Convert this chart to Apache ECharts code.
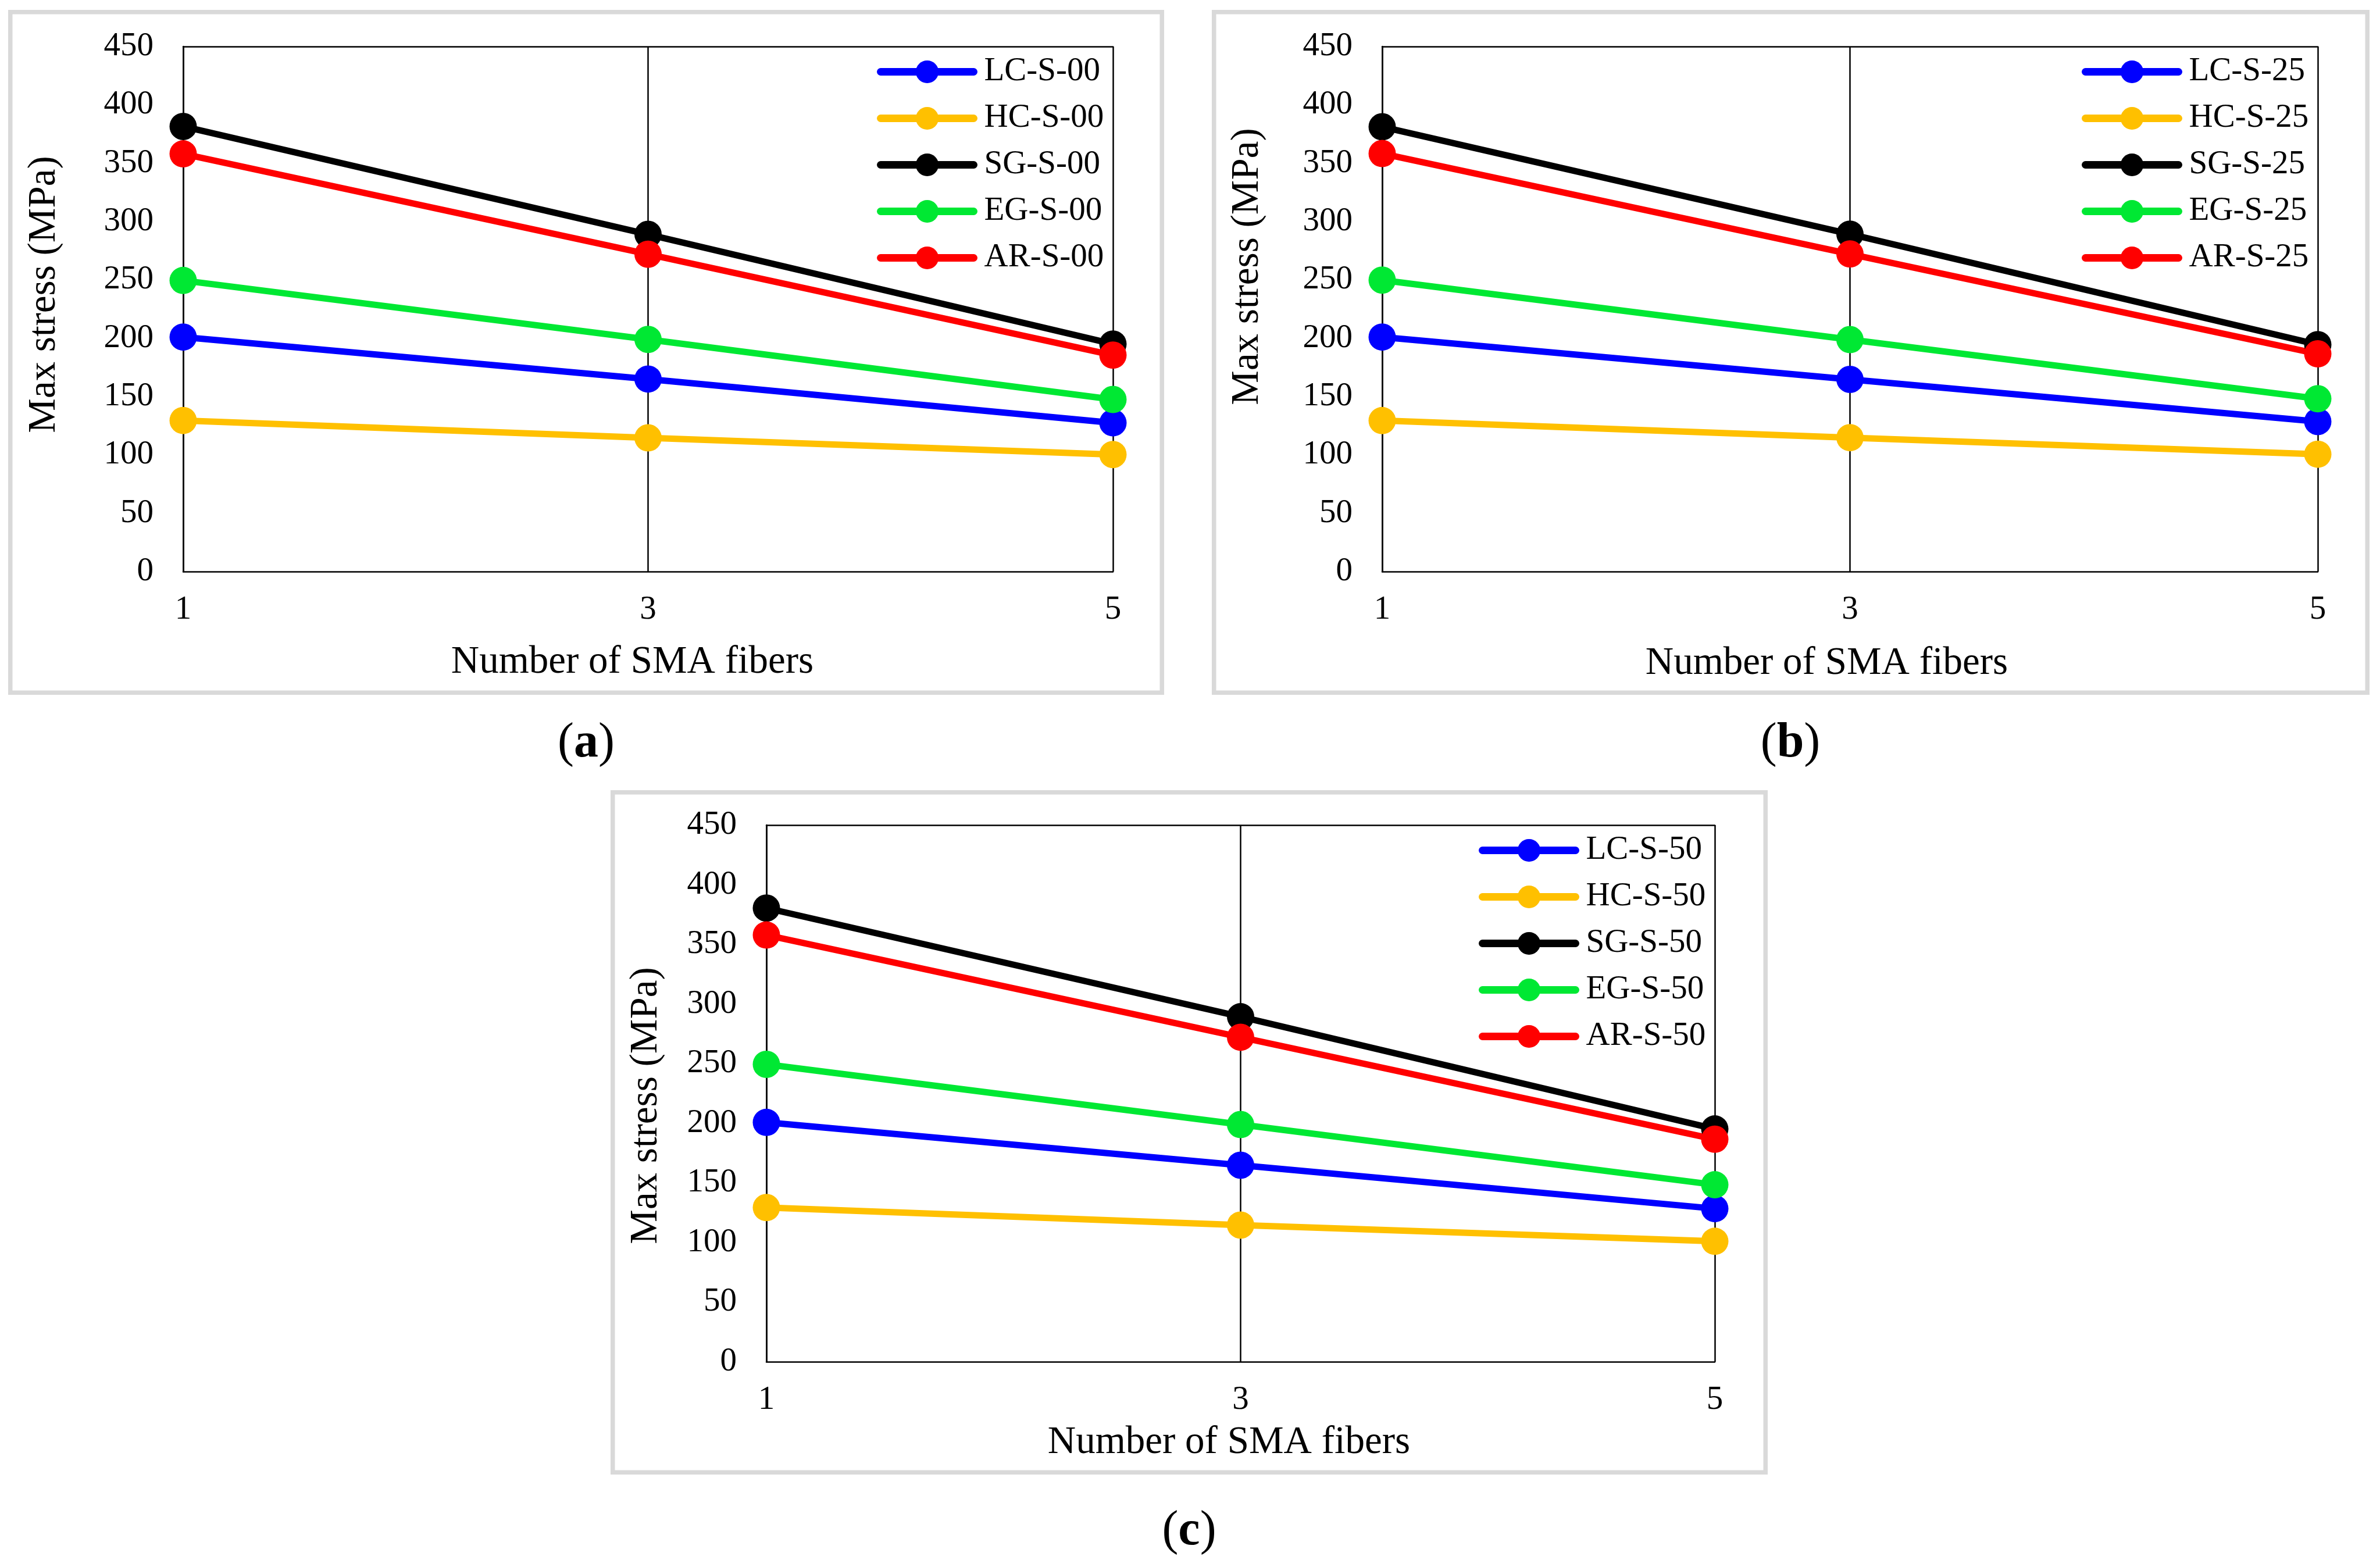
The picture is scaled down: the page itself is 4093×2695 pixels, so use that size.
<!DOCTYPE html>
<html>
<head>
<meta charset="utf-8">
<script src="https://cdn.jsdelivr.net/npm/echarts@6/dist/echarts.min.js"></script>
<style>
html,body{margin:0;padding:0;background:#fff;}
#chart{width:4093px;height:2695px;}
</style>
</head>
<body>
<div id="chart"></div>
<script>
// ---- data ----
const categories = ['1', '3', '5'];
const xAxisTitle = 'Number of SMA fibers';
const yAxisTitle = 'Max stress (MPa)';
const yMin = 0, yMax = 450, yStep = 50;

const namesA = ['LC-S-00', 'HC-S-00', 'SG-S-00', 'EG-S-00', 'AR-S-00'];
const namesB = ['LC-S-25', 'HC-S-25', 'SG-S-25', 'EG-S-25', 'AR-S-25'];
const namesC = ['LC-S-50', 'HC-S-50', 'SG-S-50', 'EG-S-50', 'AR-S-50'];

const lcA = [201, 165, 127.5];
const hcA = [129.5, 114.6, 100.3];
const sgA = [381.5, 289, 195];
const egA = [249.5, 199, 147.5];
const arA = [358, 272, 185.5];

const lcB = [201, 164.7, 128.6];
const hcB = [129.4, 114.8, 100.6];
const sgB = [381.2, 289.2, 194.5];
const egB = [249.8, 198.8, 148.1];
const arB = [358.3, 272.2, 186.6];

const lcC = [200.7, 164.8, 128.4];
const hcC = [129.3, 114.6, 101];
const sgC = [380.4, 289.3, 195.2];
const egC = [249.4, 198.9, 148.4];
const arC = [357.8, 272.1, 186.6];

const panelLabels = ['a', 'b', 'c'];

// ---- styling ----
const colors = ['#0000ff', '#ffc000', '#000000', '#00e833', '#ff0000'];
const FONT = 'Liberation Serif';

const panels = [
  { names: namesA, data: [lcA, hcA, sgA, egA, arA],
    grid: { left: 315, top: 80, width: 1599, height: 903 },
    xGap: 123, xPad: [0, 54, 0, 0], yGap: 205, yPad: [0, 0, 0, 50],
    frame: { x: 17.75, y: 20.75, w: 1980.5, h: 1170.5 }, label: { x: 1008, y: 1279 } },
  { names: namesB, data: [lcB, hcB, sgB, egB, arB],
    grid: { left: 2377, top: 80, width: 1609, height: 903 },
    xGap: 125, xPad: [0, 80, 0, 0], yGap: 198, yPad: [0, 0, 0, 146],
    frame: { x: 2087.75, y: 20.75, w: 1983.5, h: 1170.5 }, label: { x: 3079, y: 1279 } },
  { names: namesC, data: [lcC, hcC, sgC, egC, arC],
    grid: { left: 1318, top: 1419, width: 1631, height: 923 },
    xGap: 106, xPad: [0, 40, 0, 0], yGap: 173, yPad: [0, 42, 0, 0],
    frame: { x: 1053.75, y: 1362.75, w: 1982.5, h: 1169.5 }, label: { x: 2045, y: 2634 } }
];

const grids = [], xAxes = [], yAxes = [], series = [], legends = [], graphics = [];
const axisLineStyle = { color: '#000', width: 2.5 };

panels.forEach((p, i) => {
  grids.push(p.grid);
  xAxes.push({
    type: 'category', gridIndex: i, data: categories, boundaryGap: false,
    axisLine: { show: true, lineStyle: axisLineStyle },
    axisTick: { show: false },
    splitLine: { show: true, lineStyle: axisLineStyle },
    axisLabel: { fontFamily: FONT, fontSize: 57, lineHeight: 57, color: '#000', margin: 38 },
    name: xAxisTitle, nameLocation: 'middle', nameGap: p.xGap,
    nameTextStyle: { fontFamily: FONT, fontSize: 67, lineHeight: 67, color: '#000', padding: p.xPad }
  });
  xAxes.push({
    type: 'category', gridIndex: i, data: categories, boundaryGap: false, position: 'top',
    axisLine: { show: true, lineStyle: axisLineStyle },
    axisTick: { show: false }, axisLabel: { show: false }, splitLine: { show: false }
  });
  yAxes.push({
    type: 'value', gridIndex: i, min: yMin, max: yMax, interval: yStep,
    axisLine: { show: true, lineStyle: axisLineStyle },
    axisTick: { show: false }, splitLine: { show: false },
    axisLabel: { fontFamily: FONT, fontSize: 57, color: '#000', margin: 51 },
    name: yAxisTitle, nameLocation: 'middle', nameGap: p.yGap,
    nameTextStyle: { fontFamily: FONT, fontSize: 67, lineHeight: 67, color: '#000', padding: p.yPad }
  });
  p.names.forEach((n, k) => {
    series.push({
      type: 'line', name: n, xAxisIndex: i * 2, yAxisIndex: i, data: p.data[k],
      symbol: 'circle', symbolSize: 47, color: colors[k],
      lineStyle: { width: 11, color: colors[k] },
      itemStyle: { color: colors[k] },
      emphasis: { disabled: true }, animation: false
    });
  });
  const plotRight = p.grid.left + p.grid.width;
  legends.push({
    data: p.names, orient: 'vertical', padding: 0,
    left: plotRight - 406, top: p.grid.top + 15,
    itemWidth: 160, itemHeight: 49, itemGap: 23,
    lineStyle: { width: 13, cap: 'round' },
    textStyle: { fontFamily: FONT, fontSize: 57, lineHeight: 49, color: '#000', padding: [0, 0, 0, 13] },
    selectedMode: false
  });
  graphics.push({
    type: 'rect', shape: { x: p.frame.x, y: p.frame.y, width: p.frame.w, height: p.frame.h },
    style: { fill: 'none', stroke: '#d9d9d9', lineWidth: 7.5 }, z: -1
  });
  graphics.push({
    type: 'text', x: p.label.x, y: p.label.y,
    style: {
      text: '{n|(}{b|' + panelLabels[i] + '}{n|)}',
      align: 'center', verticalAlign: 'middle',
      rich: {
        n: { fontFamily: FONT, fontSize: 84, fill: '#000' },
        b: { fontFamily: FONT, fontSize: 84, fontWeight: 'bold', fill: '#000' }
      }
    }
  });
});

const chart = echarts.init(document.getElementById('chart'), null, { renderer: 'canvas' });
chart.setOption({
  animation: false,
  backgroundColor: '#fff',
  grid: grids, xAxis: xAxes, yAxis: yAxes, series: series, legend: legends,
  graphic: graphics
});
</script>
</body>
</html>
